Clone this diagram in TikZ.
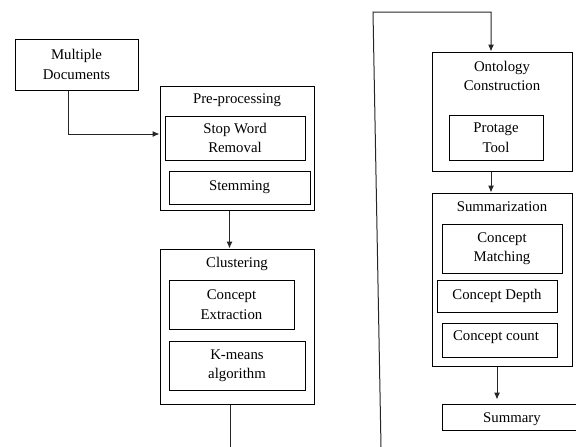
\documentclass[tikz,border=0pt]{standalone}
\usepackage{fontspec}
\setmainfont{Liberation Serif}
\usetikzlibrary{arrows.meta,calc}
\begin{document}
\begin{tikzpicture}[x=1pt,y=-1pt,
  box/.style={draw=black,line width=1pt,rectangle,inner sep=0pt,align=center,
    font=\fontsize{14.8}{19.5}\selectfont},
  ttl/.style={inner sep=0pt,align=center,font=\fontsize{14.8}{19}\selectfont},
  con/.style={draw=black!85,line width=1pt},
  arr/.style={con,-{Latex[length=7pt,width=6pt]}}]
\useasboundingbox (0,0) rectangle (576,447);
\clip (0,0) rectangle (576,447);
% left column
\node[box,minimum width=123pt,minimum height=51pt] (md) at (76.5,64.5) {Multiple\\Documents};
\node[box,minimum width=154pt,minimum height=124pt] (pre) at (237,148) {};
\node[ttl] (pret) at (237,100) {Pre-processing};
\node[box,minimum width=140pt,minimum height=44pt] (swr) at (235,138) {Stop Word\\Removal};
\node[box,minimum width=141pt,minimum height=33pt] (stem) at (239.5,187.5) {Stemming};
\node[box,minimum width=154pt,minimum height=155pt] (clu) at (237,326.5) {};
\node[ttl] (clut) at (237,264) {Clustering};
\node[box,minimum width=125pt,minimum height=49pt] (ce) at (231.5,304.5) {Concept\\Extraction};
\node[box,minimum width=136pt,minimum height=49pt] (km) at (237,365.5) {K-means\\algorithm};
% right column
\node[box,minimum width=140pt,minimum height=119pt] (ont) at (502,111.5) {};
\node[ttl] (ontt) at (502,76) {Ontology\\Construction};
\node[box,minimum width=94pt,minimum height=45pt] (pt) at (496,137.5) {Protage\\Tool};
\node[box,minimum width=140pt,minimum height=173pt] (sum) at (502,279.5) {};
\node[ttl] (sumt) at (502,207) {Summarization};
\node[box,minimum width=120pt,minimum height=49pt] (cm) at (502,248.5) {Concept\\Matching};
\node[box,minimum width=120pt,minimum height=32pt] (cd) at (497,296) {Concept Depth};
\node[box,minimum width=115pt,minimum height=34pt] (cc) at (499.5,340) {};
\node[ttl] (cct) at (496,337) {Concept count};
\node[box,minimum width=140pt,minimum height=26pt] (summ) at (512,417) {};
\node[ttl] (summt) at (512,419) {Summary};
% connectors
\coordinate (j1) at (68,134);
\draw[arr] (j1 |- md.south) -- (j1) -- (j1 -| pre.west);
\coordinate (j2) at (229.5,0);
\draw[arr] (j2 |- pre.south) -- (j2 |- clu.north);
\coordinate (e1) at (230,447);
\draw[con] (e1 |- clu.south) -- (e1);
\coordinate (e2) at (381,447);
\coordinate (t1) at (373,12);
\coordinate (t2) at (491,12);
\draw[arr] (e2) -- (t1) -- (t2) -- (t2 |- ont.north);
\coordinate (j3) at (491,0);
\draw[arr] (j3 |- ont.south) -- (j3 |- sum.north);
\coordinate (j4) at (497,0);
\draw[arr,shorten >=4pt] (j4 |- sum.south) -- (j4 |- summ.north);
\end{tikzpicture}
\end{document}
